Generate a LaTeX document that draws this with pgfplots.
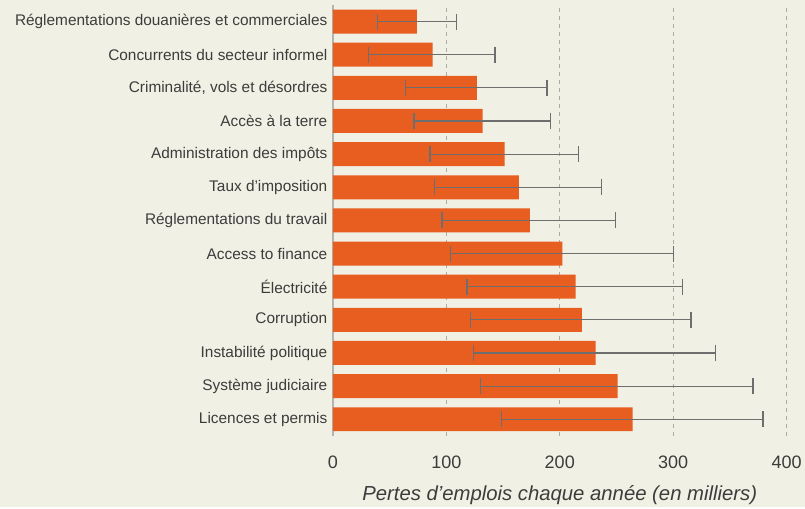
\documentclass[border=0pt]{standalone}
\usepackage{pgfplots}
\pgfplotsset{compat=1.18}
\usepackage{pgfplotstable}
\usepackage{fontspec}
\setmainfont{Liberation Sans}
\definecolor{bg}{HTML}{F0F0E4}
\definecolor{barc}{HTML}{E85E20}
\definecolor{txt}{HTML}{3C3C3C}
\definecolor{gridc}{HTML}{ABABAB}
\definecolor{err}{HTML}{6E6E6E}
\definecolor{axisc}{HTML}{B3B3B3}

\pgfplotstableread{
i v em ep
0 264.3 115.8 114.8
1 251.1 121.0 119.2
2 231.7 107.5 105.7
3 219.4 98.1 96.3
4 214.0 95.7 94.1
5 202.4 98.7 98.0
6 173.6 77.3 75.7
7 164.0 74.1 72.7
8 151.5 65.8 65.0
9 132.0 60.4 59.8
10 127.0 63.0 61.8
11 88.0 56.6 55.0
12 74.0 34.6 34.7
}\data

\begin{document}
\begin{tikzpicture}
\fill[bg] (-333pt,-71pt) rectangle (472pt,436pt);
\begin{axis}[
  at={(0pt,0pt)}, anchor=south west,
  scale only axis, width=454pt, height=431pt,
  xmin=0, xmax=400, ymin=-0.5, ymax=12.5,
  xbar, bar width=24pt,
  axis lines*=left,
  x axis line style={draw=none},
  y axis line style={draw=axisc, line width=1.5pt},
  xtick={0,100,200,300,400},
  ytick={0,...,12},
  yticklabels={Licences et permis, Système judiciaire, Instabilité politique, Corruption, Électricité, Access to finance, Réglementations du travail, Taux d’imposition, Administration des impôts, Accès à la terre, {Criminalité, vols et désordres}, Concurrents du secteur informel, Réglementations douanières et commerciales},
  major tick length=0pt,
  xmajorgrids,
  grid style={draw=gridc, line width=1.2pt, dash pattern=on 4pt off 4pt},
  /pgf/number format/assume math mode=true,
  xticklabel style={font=\fontsize{18}{18}\selectfont, text=txt, yshift=-17pt},
  yticklabel style={font=\fontsize{15.4}{16}\selectfont, text=txt, xshift=-2pt},
  xlabel={Pertes d’emplois chaque année (en milliers)},
  xlabel style={font=\fontsize{20.3}{20.3}\selectfont\itshape, text=txt, at={(axis description cs:0.5,0)}, anchor=base, yshift=-65pt},
]
\addplot[fill=barc, draw=none,
  error bars/.cd, x dir=both, x explicit,
  error bar style={draw=err, line width=1.2pt},
  error mark options={draw=err, line width=1.3pt, mark size=8pt, rotate=90}]
  table[x=v, y=i, x error plus=ep, x error minus=em]{\data};
\end{axis}
\end{tikzpicture}
\end{document}
